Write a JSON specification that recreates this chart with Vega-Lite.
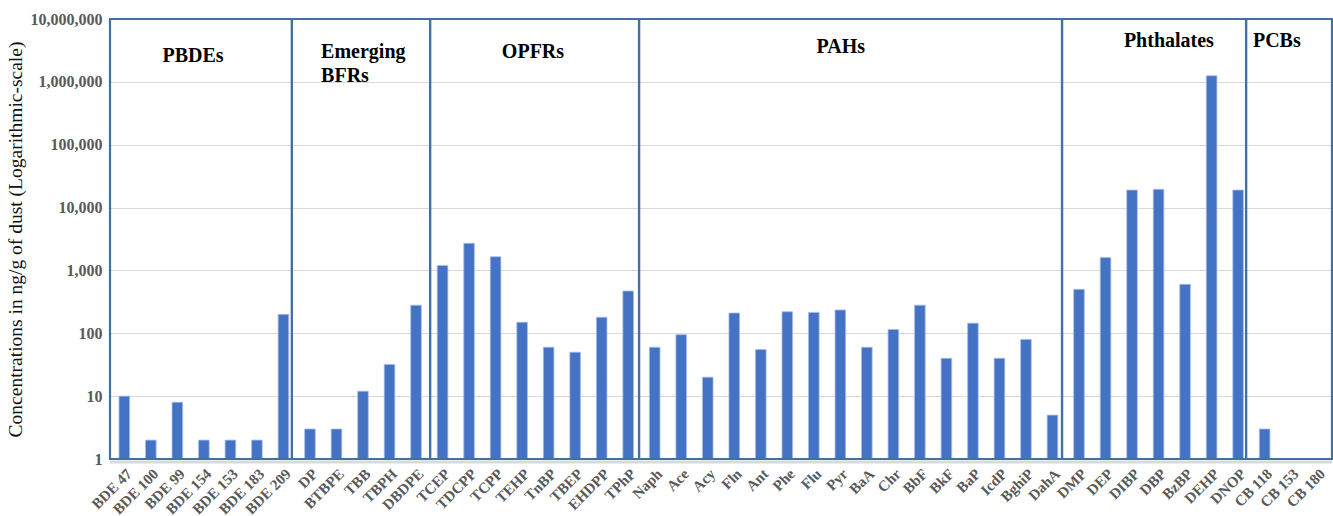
{
  "$schema": "https://vega.github.io/schema/vega-lite/v6.json",
  "width": 1222,
  "height": 440,
  "autosize": {"type": "none"},
  "padding": {"left": 110, "top": 19, "right": 1, "bottom": 57},
  "background": "white",
  "config": {"view": {"stroke": null}},
  "datasets": {
    "bars": [
      {"compound": "BDE 47", "group": "PBDEs", "value": 10},
      {"compound": "BDE 100", "group": "PBDEs", "value": 2},
      {"compound": "BDE 99", "group": "PBDEs", "value": 8},
      {"compound": "BDE 154", "group": "PBDEs", "value": 2},
      {"compound": "BDE 153", "group": "PBDEs", "value": 2},
      {"compound": "BDE 183", "group": "PBDEs", "value": 2},
      {"compound": "BDE 209", "group": "PBDEs", "value": 200},
      {"compound": "DP", "group": "Emerging BFRs", "value": 3},
      {"compound": "BTBPE", "group": "Emerging BFRs", "value": 3},
      {"compound": "TBB", "group": "Emerging BFRs", "value": 12},
      {"compound": "TBPH", "group": "Emerging BFRs", "value": 32},
      {"compound": "DBDPE", "group": "Emerging BFRs", "value": 280},
      {"compound": "TCEP", "group": "OPFRs", "value": 1200},
      {"compound": "TDCPP", "group": "OPFRs", "value": 2700},
      {"compound": "TCPP", "group": "OPFRs", "value": 1650},
      {"compound": "TEHP", "group": "OPFRs", "value": 150},
      {"compound": "TnBP", "group": "OPFRs", "value": 60},
      {"compound": "TBEP", "group": "OPFRs", "value": 50},
      {"compound": "EHDPP", "group": "OPFRs", "value": 180},
      {"compound": "TPhP", "group": "OPFRs", "value": 470},
      {"compound": "Naph", "group": "PAHs", "value": 60},
      {"compound": "Ace", "group": "PAHs", "value": 95},
      {"compound": "Acy", "group": "PAHs", "value": 20},
      {"compound": "Fln", "group": "PAHs", "value": 210},
      {"compound": "Ant", "group": "PAHs", "value": 55},
      {"compound": "Phe", "group": "PAHs", "value": 220},
      {"compound": "Flu", "group": "PAHs", "value": 215},
      {"compound": "Pyr", "group": "PAHs", "value": 235},
      {"compound": "BaA", "group": "PAHs", "value": 60},
      {"compound": "Chr", "group": "PAHs", "value": 115},
      {"compound": "BbF", "group": "PAHs", "value": 280},
      {"compound": "BkF", "group": "PAHs", "value": 40},
      {"compound": "BaP", "group": "PAHs", "value": 145},
      {"compound": "IcdP", "group": "PAHs", "value": 40},
      {"compound": "BghiP", "group": "PAHs", "value": 80},
      {"compound": "DahA", "group": "PAHs", "value": 5},
      {"compound": "DMP", "group": "Phthalates", "value": 500},
      {"compound": "DEP", "group": "Phthalates", "value": 1600},
      {"compound": "DIBP", "group": "Phthalates", "value": 19000},
      {"compound": "DBP", "group": "Phthalates", "value": 19500},
      {"compound": "BzBP", "group": "Phthalates", "value": 600},
      {"compound": "DEHP", "group": "Phthalates", "value": 1250000},
      {"compound": "DNOP", "group": "Phthalates", "value": 19000},
      {"compound": "CB 118", "group": "PCBs", "value": 3},
      {"compound": "CB 153", "group": "PCBs", "value": null},
      {"compound": "CB 180", "group": "PCBs", "value": null}
    ],
    "groups": [
      {"group": "PBDEs", "start": 0, "end": 6.86},
      {"group": "Emerging BFRs", "start": 6.86, "end": 12.07},
      {"group": "OPFRs", "start": 12.07, "end": 19.95},
      {"group": "PAHs", "start": 19.95, "end": 35.9},
      {"group": "Phthalates", "start": 35.9, "end": 42.84},
      {"group": "PCBs", "start": 42.84, "end": 46.08}
    ],
    "labels": [
      {"text": "PBDEs", "pos": 3.13, "level": 2620000},
      {"text": "OPFRs", "pos": 15.95, "level": 2980000},
      {"text": "PAHs", "pos": 27.56, "level": 3580000},
      {"text": "Phthalates", "pos": 39.93, "level": 4460000},
      {"text": "PCBs", "pos": 44.0, "level": 4460000}
    ],
    "leftlabels": [
      {"text": "Emerging", "pos": 7.96, "level": 2980000},
      {"text": "BFRs", "pos": 7.96, "level": 1240000}
    ],
    "shadow": [
      {"from": 0, "to": 46.08, "level": 0.9}
    ]
  },
  "layer": [
    {
      "data": {"name": "shadow"},
      "mark": {"type": "rule", "color": "#d9d9d9", "strokeWidth": 3, "clip": false},
      "encoding": {
        "x": {"field": "from", "type": "quantitative", "scale": {"domain": [0, 46.08], "nice": false, "zero": false}, "axis": null},
        "x2": {"field": "to"},
        "y": {"field": "level", "type": "quantitative"}
      }
    },
    {
      "data": {"name": "bars"},
      "mark": {"type": "bar", "color": "#4472C4", "stroke": "#a8bde6", "strokeWidth": 0.8},
      "encoding": {
        "x": {
          "field": "compound",
          "type": "nominal",
          "sort": null,
          "scale": {
            "domain": ["BDE 47", "BDE 100", "BDE 99", "BDE 154", "BDE 153", "BDE 183", "BDE 209", "DP", "BTBPE", "TBB", "TBPH", "DBDPE", "TCEP", "TDCPP", "TCPP", "TEHP", "TnBP", "TBEP", "EHDPP", "TPhP", "Naph", "Ace", "Acy", "Fln", "Ant", "Phe", "Flu", "Pyr", "BaA", "Chr", "BbF", "BkF", "BaP", "IcdP", "BghiP", "DahA", "DMP", "DEP", "DIBP", "DBP", "BzBP", "DEHP", "DNOP", "CB 118", "CB 153", "CB 180"],
            "paddingInner": 0.6,
            "paddingOuter": 0.34
          },
          "axis": {
            "title": null,
            "labelAngle": -45,
            "labelFont": "Liberation Serif",
            "labelFontWeight": "bold",
            "labelFontSize": 15,
            "labelColor": "#595959",
            "labelPadding": 7,
            "labelOverlap": false,
            "labelBound": false,
            "domain": false,
            "ticks": false,
            "grid": false
          }
        },
        "y": {
          "field": "value",
          "type": "quantitative",
          "scale": {"type": "log", "domain": [1, 10000000], "nice": false},
          "axis": {
            "title": "Concentrations in ng/g of dust (Logarithmic-scale)",
            "titleFont": "Liberation Serif",
            "titleFontSize": 19.5,
            "titleFontWeight": "normal",
            "titleColor": "#111111",
            "titlePadding": 5,
            "values": [1, 10, 100, 1000, 10000, 100000, 1000000, 10000000],
            "format": ",",
            "labelFont": "Liberation Serif",
            "labelFontWeight": "bold",
            "labelFontSize": 16,
            "labelColor": "#595959",
            "labelPadding": 8,
            "domain": false,
            "ticks": false,
            "grid": true,
            "gridColor": "#d9d9d9",
            "gridWidth": 1
          }
        },
        "y2": {"datum": 1}
      }
    },
    {
      "data": {"name": "groups"},
      "mark": {"type": "rect", "fill": null, "fillOpacity": 0, "stroke": "#41719c", "strokeWidth": 2.2},
      "encoding": {
        "x": {"field": "start", "type": "quantitative", "scale": {"domain": [0, 46.08], "nice": false, "zero": false}, "axis": null},
        "x2": {"field": "end"},
        "y": {"datum": 10000000, "type": "quantitative"},
        "y2": {"datum": 1}
      }
    },
    {
      "data": {"name": "labels"},
      "mark": {"type": "text", "font": "Liberation Serif", "fontWeight": "bold", "fontSize": 20, "color": "#000000", "baseline": "middle", "align": "center"},
      "encoding": {
        "x": {"field": "pos", "type": "quantitative", "scale": {"domain": [0, 46.08], "nice": false, "zero": false}, "axis": null},
        "y": {"field": "level", "type": "quantitative"},
        "text": {"field": "text"}
      }
    },
    {
      "data": {"name": "leftlabels"},
      "mark": {"type": "text", "font": "Liberation Serif", "fontWeight": "bold", "fontSize": 20, "color": "#000000", "baseline": "middle", "align": "left"},
      "encoding": {
        "x": {"field": "pos", "type": "quantitative", "scale": {"domain": [0, 46.08], "nice": false, "zero": false}, "axis": null},
        "y": {"field": "level", "type": "quantitative"},
        "text": {"field": "text"}
      }
    }
  ],
  "resolve": {"scale": {"x": "independent"}}
}
